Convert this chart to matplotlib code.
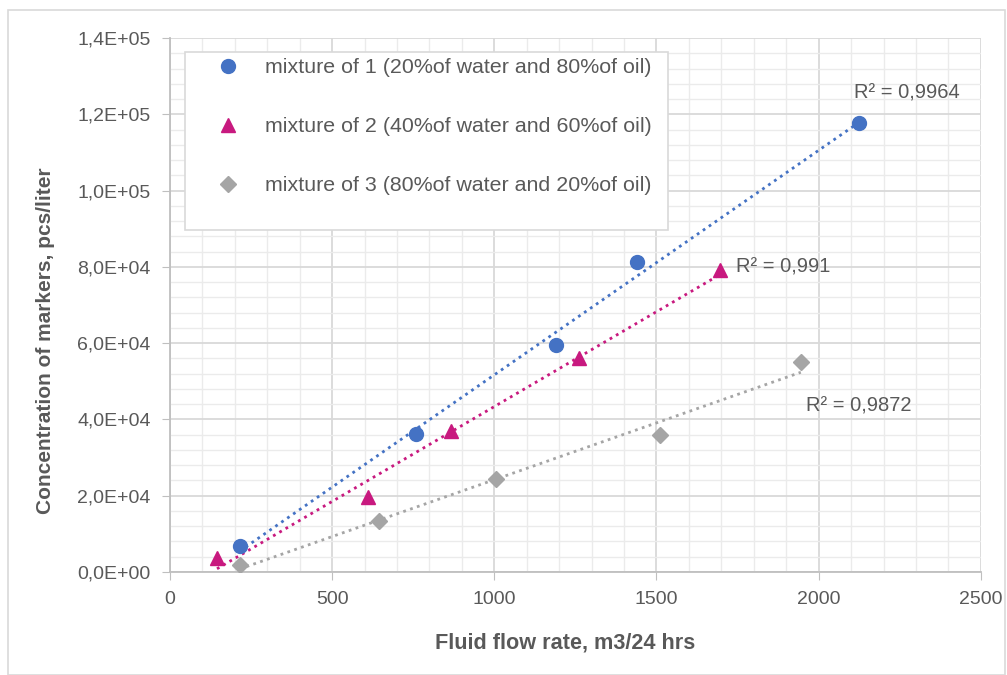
import numpy as np
import matplotlib
matplotlib.use("Agg")
from matplotlib import pyplot as plt
from matplotlib.ticker import MultipleLocator, FuncFormatter
from matplotlib.patches import Rectangle

plt.rcParams['font.family'] = ['Liberation Sans', 'DejaVu Sans']

#---------------------------Data---------------------------#

flow_1 = [215, 760, 1190, 1440, 2125]
conc_1 = [6800, 36200, 59500, 81200, 117700]

flow_2 = [145, 610, 865, 1260, 1695]
conc_2 = [3700, 19700, 37000, 56100, 79200]

flow_3 = [215, 645, 1005, 1510, 1945]
conc_3 = [1800, 13400, 24400, 35900, 55000]

labels = ["mixture of 1 (20%of water and 80%of oil)",
          "mixture of 2 (40%of water and 60%of oil)",
          "mixture of 3 (80%of water and 20%of oil)"]
r2_labels = ["R² = 0,9964", "R² = 0,991", "R² = 0,9872"]
r2_pos = [(2110, 125500), (1745, 80000), (1960, 43500)]

colors = ["#4472C4", "#C8197F", "#A5A5A5"]
markers = ["o", "^", "D"]
msizes = [10, 10, 8.5]

#---------------------------Plotting---------------------------#

fig = plt.figure(figsize=(10.07, 6.75), dpi=100)
fig.patches.append(Rectangle((0.008, 0.0), 0.99, 0.985, transform=fig.transFigure,
                             fill=False, edgecolor="#D9D9D9", lw=1.2))
ax = fig.add_axes([0.1688, 0.1526, 0.8052, 0.7911])

series = [(flow_1, conc_1), (flow_2, conc_2), (flow_3, conc_3)]
for i, (x, y) in enumerate(series):
    x = np.array(x, dtype=float)
    y = np.array(y, dtype=float)
    # linear trendline over data range
    k, b = np.polyfit(x, y, 1)
    xx = np.array([x.min(), x.max()])
    ax.plot(xx, k * xx + b, color=colors[i], lw=2, linestyle=(0, (1, 1.6)), zorder=3)
    ax.plot(x, y, linestyle="none", marker=markers[i], ms=msizes[i], color=colors[i],
            mec=colors[i], label=labels[i], zorder=4)
    ax.text(r2_pos[i][0], r2_pos[i][1], r2_labels[i], fontsize=14.5, color="#595959",
            ha="left", va="center", zorder=5)

ax.set_xlim(0, 2500)
ax.set_ylim(0, 140000)
ax.xaxis.set_major_locator(MultipleLocator(500))
ax.xaxis.set_minor_locator(MultipleLocator(100))
ax.yaxis.set_major_locator(MultipleLocator(20000))
ax.yaxis.set_minor_locator(MultipleLocator(4000))
ax.yaxis.set_major_formatter(FuncFormatter(lambda v, p: f"{v:.1E}".replace(".", ",")))

ax.grid(which="major", color="#D9D9D9", lw=1.3)
ax.grid(which="minor", color="#EBEBEB", lw=1.0)
ax.set_axisbelow(True)
for s in ["top", "right"]:
    ax.spines[s].set_visible(False)
for s in ["left", "bottom"]:
    ax.spines[s].set_color("#BFBFBF")
    ax.spines[s].set_linewidth(1.3)
ax.tick_params(which="major", length=6, color="#BFBFBF", labelsize=14, labelcolor="#595959", pad=8)
ax.tick_params(which="minor", length=0)

ax.set_xlabel("Fluid flow rate, m3/24 hrs", fontsize=15.6, fontweight="bold", color="#595959")
ax.set_ylabel("Concentration of markers, pcs/liter", fontsize=15, fontweight="bold", color="#595959")
ax.xaxis.set_label_coords(0.487, -0.114)
ax.yaxis.set_label_coords(-0.142, 0.433)

# legend box drawn separately (Excel-like padding)
ax.add_patch(Rectangle((0.0185, 0.640), 0.5955, 0.334, transform=ax.transAxes,
                       facecolor="white", edgecolor="#D9D9D9", lw=1.2, zorder=6))
leg = ax.legend(loc="upper left", bbox_to_anchor=(0.0425, 0.9625), fontsize=15.4, labelspacing=1.88,
                borderpad=0, handletextpad=0.63, borderaxespad=0, frameon=False,
                handlelength=2.2)
leg.set_zorder(7)
for t in leg.get_texts():
    t.set_color("#595959")

fig.savefig("out.png", dpi=100)
